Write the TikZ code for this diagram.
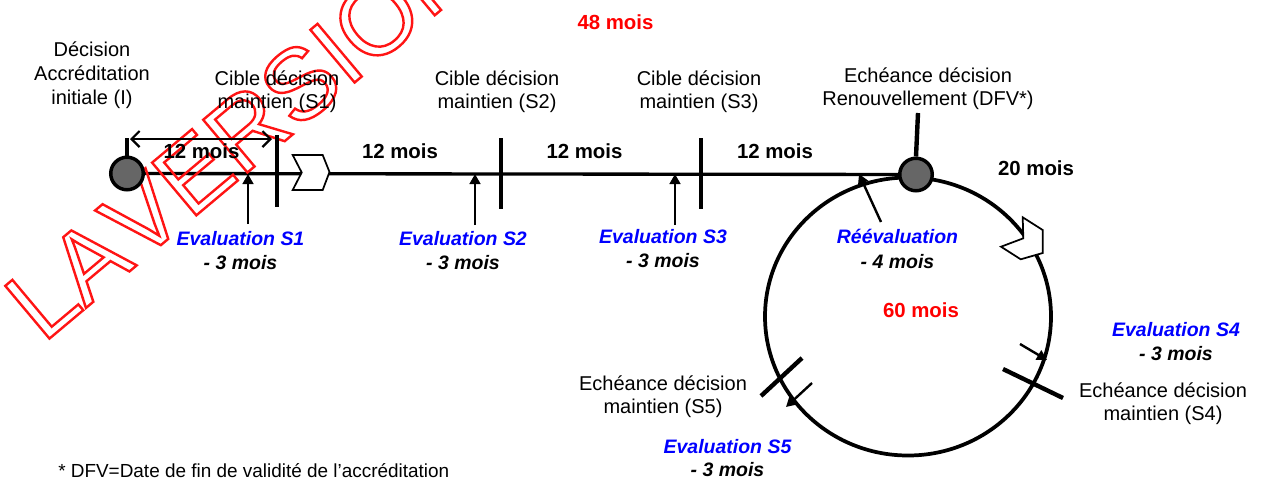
\documentclass[tikz,border=0pt]{standalone}
\usepackage{fontspec}
\setmainfont{Liberation Sans}
\usetikzlibrary{arrows.meta,backgrounds}
\definecolor{evblue}{RGB}{0,0,255}
\definecolor{mred}{RGB}{255,0,0}
\definecolor{wmred}{RGB}{255,20,20}
\definecolor{dotgray}{RGB}{102,102,102}
\newcommand\outlinetext[1]{\special{pdf:literal direct 1 Tr 1.8 w}#1\special{pdf:literal direct 0 Tr}}
\tikzset{
  lbl/.style={font=\fontsize{15}{18}\selectfont, inner sep=0pt, anchor=base},
  dur/.style={font=\bfseries\fontsize{15.3}{18}\selectfont, inner sep=0pt, anchor=base},
  ev/.style={font=\bfseries\itshape\fontsize{14.6}{18}\selectfont, text=evblue, inner sep=0pt, anchor=base},
  evm/.style={font=\bfseries\itshape\fontsize{14.6}{18}\selectfont, inner sep=0pt, anchor=base},
  tot/.style={font=\bfseries\fontsize{15.3}{18}\selectfont, text=mred, inner sep=0pt, anchor=base},
  foot/.style={font=\fontsize{14.2}{17}\selectfont, inner sep=0pt, anchor=base west},
  mainline/.style={line width=2.5pt},
  tickmark/.style={line width=3.3pt},
  evarrow/.style={line width=1.8pt, -{Triangle[length=7.5pt,width=8pt]}},
  spanarrow/.style={line width=1.6pt, {Straight Barb[length=6pt,width=12pt]}-{Straight Barb[length=6pt,width=12pt]}},
  dot/.style={circle, draw, line width=2.6pt, fill=dotgray, minimum size=24.4pt, inner sep=0pt},
  chev/.style={draw, fill=white, line width=1.3pt, line join=miter},
  bigc/.style={line width=2.8pt}
}
\begin{document}
\begin{tikzpicture}[x=0.75pt,y=-0.75pt]
\useasboundingbox (0,0) rectangle (1266,479);

% watermark (outlined text)
\node[rotate=40, anchor=base west, inner sep=0pt, text=wmred, font=\fontsize{75}{75}\selectfont] (wm) at (43,344)
  {\outlinetext{LA\hspace{-0.25em} VERSION}};

% nodes on the main line
\node[dot] (I) at (127,173.5) {};
\node[dot] (R) at (916,174.5) {};

\begin{scope}[on background layer]
  \draw[mainline] (I) -- (R);
  \draw[bigc] (908,316.5) ellipse [x radius=143, y radius=139];
\end{scope}

% ticks
\coordinate (tI) at (127,138);
\draw[tickmark] (tI) -- (I.north);
\coordinate (tR) at (918,113);
\draw[tickmark] (tR) -- (R.north);
\coordinate (s1a) at (277,135); \coordinate (s1b) at (277,207);
\draw[tickmark] (s1a) -- (s1b);
\coordinate (s2a) at (501,138); \coordinate (s2b) at (501,209);
\draw[tickmark] (s2a) -- (s2b);
\coordinate (s3a) at (701,138); \coordinate (s3b) at (701,209);
\draw[tickmark] (s3a) -- (s3b);
\coordinate (s4a) at (1003,369); \coordinate (s4b) at (1063,398);
\draw[tickmark] (s4a) -- (s4b);
\coordinate (s5a) at (761,396); \coordinate (s5b) at (802,358);
\draw[tickmark] (s5a) -- (s5b);

% span arrow of the first period
\coordinate (spA) at (130,139); \coordinate (spB) at (272,139);
\draw[spanarrow] (spA) -- (spB);

% chevrons
\draw[chev] (292.7,155) -- (322.7,155) -- (329.5,172) -- (322.7,190) -- (292.7,190) -- (301.7,172.5) -- cycle;
\draw[chev] (1022.7,217.3) -- (1042.7,230) -- (1042.7,253) -- (1020.7,259.3) -- (1001,246.7) -- (1023.3,238.3) -- cycle;

% evaluation arrows
\coordinate (e1a) at (248,224); \coordinate (e1b) at (248,174);
\draw[evarrow] (e1a) -- (e1b);
\coordinate (e2a) at (475,225); \coordinate (e2b) at (475,174);
\draw[evarrow] (e2a) -- (e2b);
\coordinate (e3a) at (675,225); \coordinate (e3b) at (675,174);
\draw[evarrow] (e3a) -- (e3b);
\coordinate (era) at (881,222); \coordinate (erb) at (859,174);
\draw[evarrow] (era) -- (erb);
\coordinate (e4a) at (1020,344); \coordinate (e4b) at (1047,360);
\draw[evarrow] (e4a) -- (e4b);
\coordinate (e5a) at (812,383); \coordinate (e5b) at (786,407);
\draw[evarrow] (e5a) -- (e5b);

% top labels
\node[tot] (t48) at (615.5,29) {48 mois};
\node[lbl] (dI1) at (92,56) {Décision};
\node[lbl] (dI2) at (92,80) {Accréditation};
\node[lbl] (dI3) at (92,104) {initiale (I)};
\node[lbl] (c11) at (277,85) {Cible décision};
\node[lbl] (c12) at (277,108) {maintien (S1)};
\node[lbl] (c21) at (497,85) {Cible décision};
\node[lbl] (c22) at (497,108) {maintien (S2)};
\node[lbl] (c31) at (699,85) {Cible décision};
\node[lbl] (c32) at (699,108) {maintien (S3)};
\node[lbl] (dr1) at (928,82) {Echéance décision};
\node[lbl] (dr2) at (928,105) {Renouvellement (DFV*)};

% durations
\node[dur] (m1) at (201.5,158) {12 mois};
\node[dur] (m2) at (400,158) {12 mois};
\node[dur] (m3) at (584.5,158) {12 mois};
\node[dur] (m4) at (775,158) {12 mois};
\node[dur] (m20) at (1036,175) {20 mois};
\node[tot] (m60) at (921,317) {60 mois};

% evaluation labels
\node[ev] (v1) at (240.5,245.5) {Evaluation S1};
\node[evm] (v1m) at (240.5,269) {- 3 mois};
\node[ev] (v2) at (463,245.5) {Evaluation S2};
\node[evm] (v2m) at (463,269) {- 3 mois};
\node[ev] (v3) at (663,243.5) {Evaluation S3};
\node[evm] (v3m) at (663,267) {- 3 mois};
\node[ev] (vr) at (897.5,243.5) {Réévaluation};
\node[evm] (vrm) at (897.5,268) {- 4 mois};
\node[ev] (v4) at (1176,336) {Evaluation S4};
\node[evm] (v4m) at (1176,360) {- 3 mois};
\node[ev] (v5) at (727.5,453) {Evaluation S5};
\node[evm] (v5m) at (727.5,476) {- 3 mois};

% deadline labels
\node[lbl] (d41) at (1163,397) {Echéance décision};
\node[lbl] (d42) at (1163,420) {maintien (S4)};
\node[lbl] (d51) at (663,390) {Echéance décision};
\node[lbl] (d52) at (663,413) {maintien (S5)};

% footnote
\node[foot] (fn) at (58,477) {* DFV=Date de fin de validité de l’accréditation};
\end{tikzpicture}
\end{document}
